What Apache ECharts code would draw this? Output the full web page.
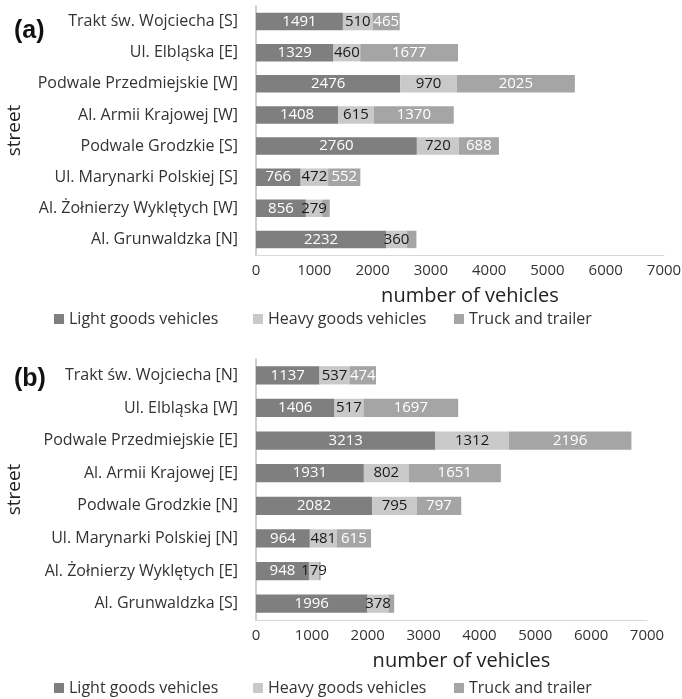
<!DOCTYPE html>
<html>
<head>
<meta charset="utf-8">
<script src="https://cdn.jsdelivr.net/npm/echarts@6/dist/echarts.min.js"></script>
<style>
  html, body { margin: 0; padding: 0; background: #fff; }
  #chart { width: 682px; height: 699px; }
</style>
</head>
<body>
<div id="chart"></div>
<script>
// Panel (a)
const streetsA = ['Trakt św. Wojciecha [S]', 'Ul. Elbląska [E]', 'Podwale Przedmiejskie [W]', 'Al. Armii Krajowej [W]',
  'Podwale Grodzkie [S]', 'Ul. Marynarki Polskiej [S]', 'Al. Żołnierzy Wyklętych [W]', 'Al. Grunwaldzka [N]'];
const lightA = [1491, 1329, 2476, 1408, 2760, 766, 856, 2232];
const heavyA = [510, 460, 970, 615, 720, 472, 279, 360];
const truckA = [465, 1677, 2025, 1370, 688, 552, 130, 160];

// Panel (b)
const streetsB = ['Trakt św. Wojciecha [N]', 'Ul. Elbląska [W]', 'Podwale Przedmiejskie [E]', 'Al. Armii Krajowej [E]',
  'Podwale Grodzkie [N]', 'Ul. Marynarki Polskiej [N]', 'Al. Żołnierzy Wyklętych [E]', 'Al. Grunwaldzka [S]'];
const lightB = [1137, 1406, 3213, 1931, 2082, 964, 948, 1996];
const heavyB = [537, 517, 1312, 802, 795, 481, 179, 378];
const truckB = [474, 1697, 2196, 1651, 797, 615, 30, 100];

const xTicks = [0, 1000, 2000, 3000, 4000, 5000, 6000, 7000];
const seriesNames = ['Light goods vehicles', 'Heavy goods vehicles', 'Truck and trailer'];

const FONT = 'Open Sans';
const colors = ['#7f7f7f', '#c9c9c9', '#a5a5a5'];
const labelColors = ['#ffffff', '#1a1a1a', '#ffffff'];
// segments narrower than this carry no value label
const labelMin = [0, 0, 300];

function xAxisFor(gridIndex) {
  return {
    type: 'value', gridIndex: gridIndex, min: xTicks[0], max: xTicks[xTicks.length - 1], interval: 1000,
    name: 'number of vehicles', nameLocation: 'middle', nameGap: 31,
    nameTextStyle: { fontFamily: FONT, fontSize: 20, color: '#222', padding: [0, 0, 0, 20] },
    axisLine: { show: true, lineStyle: { color: '#d9d9d9', width: 1 } },
    axisTick: { show: false },
    splitLine: { show: false },
    axisLabel: { fontFamily: FONT, fontSize: 15, color: '#333', margin: 8, formatter: function (v) { return String(v); } }
  };
}

function yAxisFor(gridIndex, cats) {
  return {
    type: 'category', gridIndex: gridIndex, data: cats, inverse: true,
    name: 'street', nameLocation: 'middle', nameRotate: 90, nameGap: 232,
    nameTextStyle: { fontFamily: FONT, fontSize: 19, color: '#222' },
    axisLine: { show: true, lineStyle: { color: '#bfbfbf', width: 1.5 } },
    axisTick: { show: false },
    axisLabel: { fontFamily: FONT, fontSize: 16, color: '#333', margin: 18 }
  };
}

function barSeries(gridIndex, values) {
  return values.map(function (vals, k) {
    return {
      name: seriesNames[k], type: 'bar', stack: 'p' + gridIndex,
      xAxisIndex: gridIndex, yAxisIndex: gridIndex,
      barCategoryGap: '44%',
      itemStyle: { color: colors[k] },
      label: {
        show: true, position: 'inside',
        fontFamily: FONT, fontSize: 15, color: labelColors[k],
        formatter: function (p) { return p.value >= labelMin[k] ? String(p.value) : ''; }
      },
      data: vals
    };
  });
}

function legendsAt(top) {
  const lefts = [49, 248, 449];
  return seriesNames.map(function (n, i) {
    return {
      data: [n], left: lefts[i], top: top, icon: 'rect', itemWidth: 10, itemHeight: 10, itemGap: 5,
      textStyle: { fontFamily: FONT, fontSize: 16, color: '#333' },
      selectedMode: false
    };
  });
}

const chart = echarts.init(document.getElementById('chart'), null, { renderer: 'canvas' });
chart.setOption({
  animation: false,
  backgroundColor: '#ffffff',
  grid: [
    { left: 256, top: 6, width: 408, height: 249, outerBoundsMode: 'none', containLabel: false },
    { left: 256, top: 359, width: 391, height: 261, outerBoundsMode: 'none', containLabel: false }
  ],
  xAxis: [xAxisFor(0), xAxisFor(1)],
  yAxis: [yAxisFor(0, streetsA), yAxisFor(1, streetsB)],
  legend: legendsAt(306).concat(legendsAt(675)),
  graphic: [
    { type: 'text', left: 14, top: 19, style: { text: '(a)', font: 'bold 25px "Liberation Sans"', fill: '#111' } },
    { type: 'text', left: 14, top: 367, style: { text: '(b)', font: 'bold 25px "Liberation Sans"', fill: '#111' } }
  ],
  series: barSeries(0, [lightA, heavyA, truckA]).concat(barSeries(1, [lightB, heavyB, truckB]))
});
</script>
</body>
</html>
